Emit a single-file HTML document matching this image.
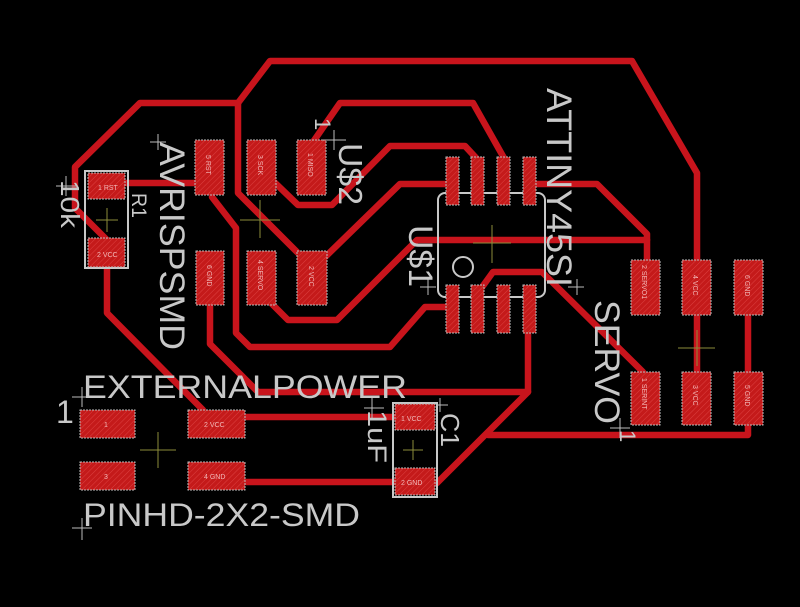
<!DOCTYPE html>
<html>
<head>
<meta charset="utf-8">
<style>
  html,body{margin:0;padding:0;background:#000;}
  svg{display:block;}
  text{font-family:"Liberation Sans",sans-serif;}
</style>
</head>
<body>
<svg width="800" height="607" viewBox="0 0 800 607" xmlns="http://www.w3.org/2000/svg">
  <defs>
    <pattern id="hatch" width="4" height="4" patternUnits="userSpaceOnUse" patternTransform="rotate(45)">
      <rect width="4" height="4" fill="#c41a1a"/>
      <line x1="0" y1="0" x2="0" y2="4" stroke="#dc4040" stroke-width="1"/>
    </pattern>
  </defs>
  <rect width="800" height="607" fill="#000"/>

  <!-- traces -->
  <g fill="none" stroke="#c8141c" stroke-width="6.5" stroke-linejoin="round" stroke-linecap="round">
    <polyline points="107,240 75,208 75,167 140,103 238,103 270,61 632,61 697,173 697,262"/>
    <polyline points="238,103 238,193 298,253"/>
    <polyline points="697,315 697,372"/>
    <polyline points="748,315 748,372"/>
    <polyline points="748,425 748,435 488,435"/>
    <polyline points="437,483 528,392 528,333"/>
    <polyline points="528,392 258,392 210,344 210,305"/>
    <polyline points="245,417 395,417"/>
    <polyline points="245,482 395,482"/>
    <polyline points="107,265 107,313 203,410"/>
    <polyline points="125,183 200,183"/>
    <polyline points="212,197 236,228 236,333 250,347 390,347 425,307 453,307"/>
    <polyline points="270,178 298,205 332,205 390,146 465,146 478,160"/>
    <polyline points="313,142 340,103 473,103 504,158"/>
    <polyline points="320,262 400,184 453,184"/>
    <polyline points="530,184 597,184 647,234 647,262"/>
    <polyline points="265,297 288,320 337,320 417,240 647,240"/>
    <polyline points="480,290 493,272 542,272 643,372"/>
  </g>

  <!-- component outlines -->
  <g fill="none" stroke="#c8c8c8" stroke-width="2">
    <rect x="438" y="193" width="107" height="104" rx="7"/>
    <circle cx="463" cy="267" r="10"/>
    <rect x="85" y="171" width="43" height="97"/>
    <rect x="393" y="403" width="44" height="94"/>
  </g>

  <!-- pads -->
  <g fill="url(#hatch)" stroke="#bdbdbd" stroke-width="1" stroke-dasharray="2,1">
    <!-- AVRISP -->
    <rect x="195" y="140" width="29" height="55"/>
    <rect x="247" y="140" width="29" height="55"/>
    <rect x="297" y="140" width="29" height="55"/>
    <rect x="196" y="251" width="28" height="54"/>
    <rect x="247" y="251" width="29" height="54"/>
    <rect x="297" y="251" width="30" height="54"/>
    <!-- R1 -->
    <rect x="88" y="173" width="37" height="26"/>
    <rect x="88" y="238" width="37" height="29"/>
    <!-- ATtiny -->
    <rect x="446" y="157" width="13" height="48"/>
    <rect x="471" y="157" width="13" height="48"/>
    <rect x="497" y="157" width="13" height="48"/>
    <rect x="523" y="157" width="13" height="48"/>
    <rect x="446" y="285" width="13" height="48"/>
    <rect x="471" y="285" width="13" height="48"/>
    <rect x="497" y="285" width="13" height="48"/>
    <rect x="523" y="285" width="13" height="48"/>
    <!-- SERVO header -->
    <rect x="631" y="260" width="29" height="55"/>
    <rect x="682" y="260" width="29" height="55"/>
    <rect x="734" y="260" width="29" height="55"/>
    <rect x="631" y="372" width="29" height="53"/>
    <rect x="682" y="372" width="29" height="53"/>
    <rect x="734" y="372" width="29" height="53"/>
    <!-- PINHD -->
    <rect x="80" y="410" width="55" height="28"/>
    <rect x="188" y="410" width="57" height="28"/>
    <rect x="80" y="462" width="55" height="28"/>
    <rect x="188" y="462" width="57" height="28"/>
    <!-- C1 -->
    <rect x="395" y="404" width="40" height="26"/>
    <rect x="395" y="468" width="40" height="27"/>
  </g>

  <!-- pad labels -->
  <g fill="#f2b8b8" font-size="7">
    <text transform="translate(206,155) rotate(90)">5 RST</text>
    <text transform="translate(258,155) rotate(90)">3 SCK</text>
    <text transform="translate(308,153) rotate(90)">1 MISO</text>
    <text transform="translate(207,265) rotate(90)">6 GND</text>
    <text transform="translate(258,260) rotate(90)">4 SERVO</text>
    <text transform="translate(309,266) rotate(90)">2 VCC</text>
    <text transform="translate(642,265) rotate(90)">2 SERVO1</text>
    <text transform="translate(693,275) rotate(90)">4 VCC</text>
    <text transform="translate(745,275) rotate(90)">6 GND</text>
    <text transform="translate(642,378) rotate(90)">1 SERINT</text>
    <text transform="translate(693,385) rotate(90)">3 VCC</text>
    <text transform="translate(745,385) rotate(90)">5 GND</text>
    <text x="98" y="190">1 RST</text>
    <text x="97" y="257">2 VCC</text>
    <text x="104" y="427">1</text>
    <text x="204" y="427">2 VCC</text>
    <text x="104" y="479">3</text>
    <text x="204" y="479">4 GND</text>
    <text x="401" y="421">1 VCC</text>
    <text x="401" y="485">2 GND</text>
  </g>

  <!-- center crosshairs -->
  <g stroke="#8c8c3a" stroke-width="1">
    <line x1="240" y1="220" x2="280" y2="220"/><line x1="260" y1="200" x2="260" y2="238"/>
    <line x1="96" y1="220" x2="118" y2="220"/><line x1="107" y1="208" x2="107" y2="232"/>
    <line x1="473" y1="243" x2="511" y2="243"/><line x1="492" y1="225" x2="492" y2="263"/>
    <line x1="678" y1="348" x2="715" y2="348"/><line x1="697" y1="330" x2="697" y2="366"/>
    <line x1="140" y1="450" x2="176" y2="450"/><line x1="158" y1="432" x2="158" y2="468"/>
    <line x1="403" y1="450" x2="423" y2="450"/><line x1="413" y1="440" x2="413" y2="460"/>
  </g>

  <!-- origin crosses -->
  <g stroke="#bdbdbd" stroke-width="1">
    <line x1="150" y1="142" x2="166" y2="142"/><line x1="158" y1="134" x2="158" y2="150"/>
    <line x1="56" y1="186" x2="76" y2="186"/><line x1="66" y1="176" x2="66" y2="196"/>
    <line x1="322" y1="140" x2="346" y2="140"/><line x1="334" y1="130" x2="334" y2="150"/>
    <line x1="568" y1="287" x2="584" y2="287"/><line x1="577" y1="279" x2="577" y2="295"/>
    <line x1="420" y1="287" x2="436" y2="287"/><line x1="428" y1="279" x2="428" y2="295"/>
    <line x1="610" y1="428" x2="630" y2="428"/><line x1="620" y1="418" x2="620" y2="438"/>
    <line x1="72" y1="397" x2="92" y2="397"/><line x1="82" y1="387" x2="82" y2="407"/>
    <line x1="72" y1="528" x2="92" y2="528"/><line x1="82" y1="518" x2="82" y2="540"/>
    <line x1="364" y1="408" x2="384" y2="408"/><line x1="372" y1="398" x2="372" y2="418"/>
    <line x1="436" y1="405" x2="448" y2="405"/><line x1="440" y1="398" x2="440" y2="412"/>
  </g>

  <!-- labels -->
  <g fill="#c8c8c8">
    <text transform="translate(160,142) rotate(90)" font-size="35" textLength="208" lengthAdjust="spacingAndGlyphs">AVRISPSMD</text>
    <text transform="translate(547,88) rotate(90)" font-size="35" textLength="199" lengthAdjust="spacingAndGlyphs">ATTINY45SI</text>
    <text transform="translate(595,300) rotate(90)" font-size="35" textLength="124" lengthAdjust="spacingAndGlyphs">SERVO</text>
    <text transform="translate(620,430) rotate(90)" font-size="22">1</text>
    <text transform="translate(339,143) rotate(90)" font-size="33" textLength="62" lengthAdjust="spacingAndGlyphs">U$2</text>
    <text transform="translate(315,118) rotate(90)" font-size="22">1</text>
    <text transform="translate(409,225) rotate(90)" font-size="34" textLength="62" lengthAdjust="spacingAndGlyphs">U$1</text>
    <text transform="translate(132,193) rotate(90)" font-size="21" textLength="25" lengthAdjust="spacingAndGlyphs">R1</text>
    <text transform="translate(61,180) rotate(90)" font-size="26" textLength="48" lengthAdjust="spacingAndGlyphs">10k</text>
    <text transform="translate(441,413) rotate(90)" font-size="26" textLength="34" lengthAdjust="spacingAndGlyphs">C1</text>
    <text transform="translate(368,410) rotate(90)" font-size="27" textLength="53" lengthAdjust="spacingAndGlyphs">1uF</text>
    <text x="83" y="398" font-size="32" textLength="324" lengthAdjust="spacingAndGlyphs">EXTERNALPOWER</text>
    <text x="56" y="423" font-size="32">1</text>
    <text x="83" y="526" font-size="32" textLength="277" lengthAdjust="spacingAndGlyphs">PINHD-2X2-SMD</text>
  </g>
</svg>
</body>
</html>
